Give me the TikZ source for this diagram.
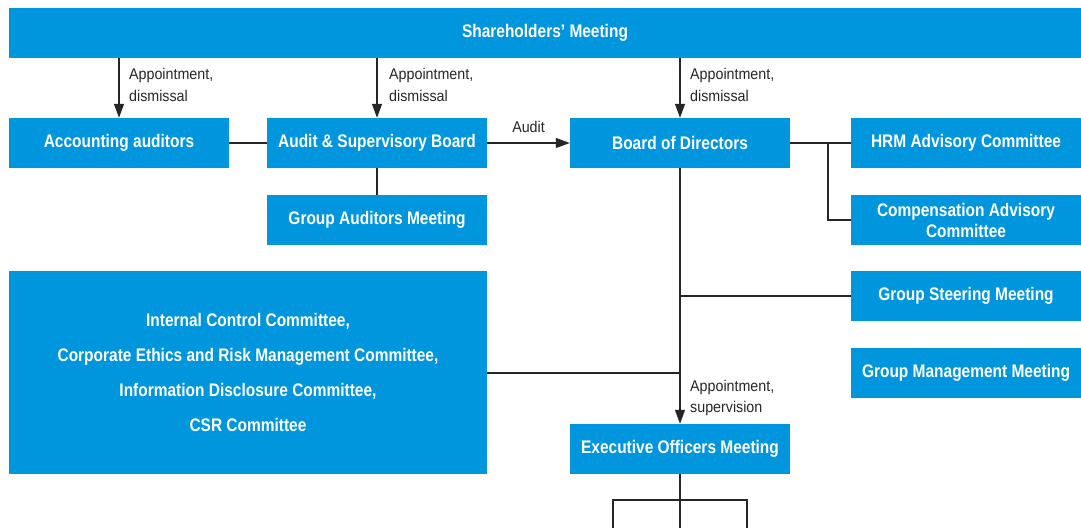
\documentclass[tikz,border=0pt]{standalone}
\usepackage{fontspec}
\usepackage{xcolor}
\usepackage{tikz}
\usetikzlibrary{arrows.meta}
\newfontfamily\boxfont{Liberation Sans}[FakeStretch=0.85]
\newfontfamily\notefont{Liberation Sans}[FakeStretch=0.92]
\definecolor{orgblue}{RGB}{0,150,222}

\begin{document}
\begin{tikzpicture}[
        x=1pt, y=-1pt,
        unit/.style={
            fill=orgblue, text=white, inner sep=0pt,
            minimum width=220pt, minimum height=50pt,
            align=center, font={\boxfont\bfseries\fontsize{18.2}{21}\selectfont}
        },
        side/.style={unit, minimum width=230pt},
        note/.style={
            text=black!85, inner sep=0pt, align=left,
            font={\notefont\fontsize{15.5}{21.5}\selectfont}
        },
        link/.style={line width=1.2pt, black!85},
        msg/.style={link, -{Triangle[length=14pt,width=10pt]}}
    ]
    \useasboundingbox (0,0) rectangle (1081,528);

    % Units
    \node[unit, minimum width=1072pt] (share) at (545,33) {Shareholders’ Meeting};
    \node[unit] (acc)  at (119,143) {Accounting auditors};
    \node[unit] (asb)  at (377,143) {Audit \& Supervisory Board};
    \node[unit] (bod)  at (680,143) {Board of Directors};
    \node[unit] (gam)  at (377,220) {Group Auditors Meeting};
    \node[unit] (eom)  at (680,449) {Executive Officers Meeting};
    \node[side] (hrm)  at (966,143) {HRM Advisory Committee};
    \node[side] (comp) at (966,220) {Compensation Advisory\\Committee};
    \node[side] (gsm)  at (966,296) {Group Steering Meeting};
    \node[side] (gmm)  at (966,373) {Group Management Meeting};
    \node[unit, minimum width=478pt, minimum height=203pt,
          font={\boxfont\bfseries\fontsize{18.2}{34.7}\selectfont}] (cmt) at (248,372.5)
        {Internal Control Committee,\\
         Corporate Ethics and Risk Management Committee,\\
         Information Disclosure Committee,\\
         CSR Committee};

    % Shareholders -> appointment, dismissal
    \draw[msg] (share.south -| acc) -- (acc.north);
    \draw[msg] (share.south -| asb) -- (asb.north);
    \draw[msg] (share.south -| bod) -- (bod.north);
    \node[note, anchor=west] (n1) at (129,85) {Appointment,\\dismissal};
    \node[note, anchor=west] (n2) at (389,85) {Appointment,\\dismissal};
    \node[note, anchor=west] (n3) at (690,85) {Appointment,\\dismissal};

    % Audit
    \draw[link] (acc.east) -- (asb.west);
    \draw[link] (asb.south) -- (gam.north);
    \draw[msg] (asb.east) -- node[note, midway, above=10pt] {Audit} (bod.west);

    % Board -> advisory committees
    \coordinate (split) at (828,143);
    \draw[link] (bod.east) -- (hrm.west);
    \draw[link] (split) |- (comp.west);

    % Board -> executive officers
    \draw[msg] (bod.south) -- (eom.north);
    \draw[link] (gsm.west) -- (gsm.west -| bod);
    \draw[link] (cmt.east |- 0,373) -- (bod |- 0,373);
    \node[note, anchor=west] (n4) at (690,398) {Appointment,\\supervision};

    % Below executive officers
    \coordinate (fork) at (680,500);
    \coordinate (forkl) at (613,500);
    \coordinate (forkr) at (747,500);
    \coordinate (endl) at (613,528);
    \coordinate (endm) at (680,528);
    \coordinate (endr) at (747,528);
    \draw[link] (eom.south) -- (fork);
    \draw[link] (endl) -- (forkl) -- (forkr) -- (endr);
    \draw[link] (fork) -- (endm);

\end{tikzpicture}
\end{document}
